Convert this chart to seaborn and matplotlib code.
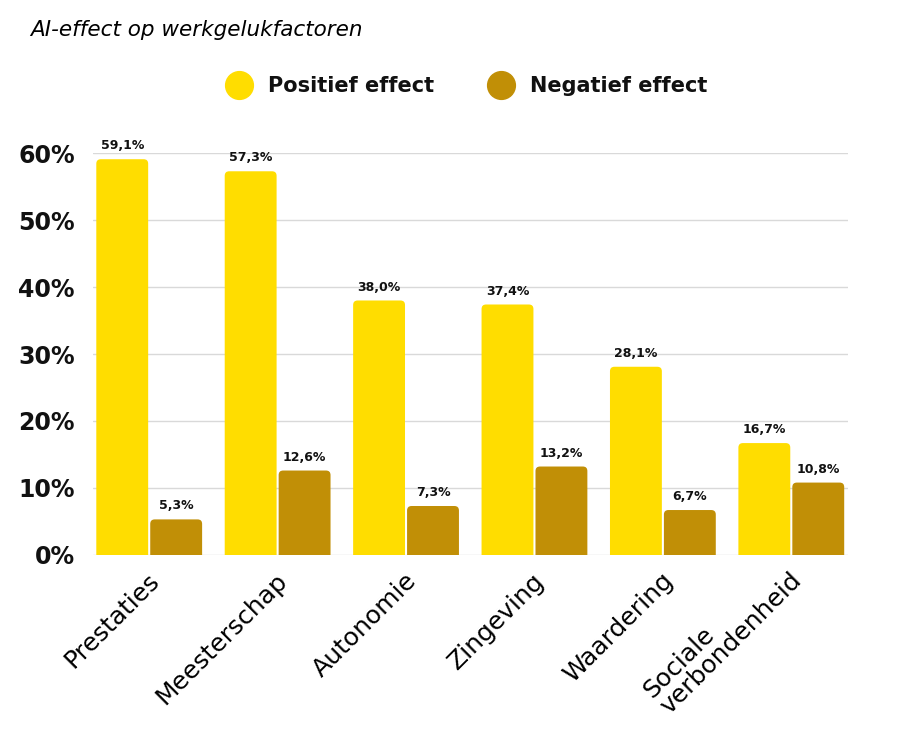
import pandas as pd
import seaborn as sns
import matplotlib.pyplot as plt
import matplotlib.transforms as mtransforms
from matplotlib.lines import Line2D
from matplotlib.patches import FancyBboxPatch

# --- data ---
factoren = ['Prestaties', 'Meesterschap', 'Autonomie', 'Zingeving', 'Waardering',
            'Sociale\nverbondenheid']
positief = [59.1, 57.3, 38.0, 37.4, 28.1, 16.7]
negatief = [5.3, 12.6, 7.3, 13.2, 6.7, 10.8]
reeksen = ['Positief effect', 'Negatief effect']
yticks = [0, 10, 20, 30, 40, 50, 60]

kleuren = {'Positief effect': '#FFDD00', 'Negatief effect': '#C18F06'}

df = pd.DataFrame({
    'factor': factoren * 2,
    'effect': [reeksen[0]] * len(factoren) + [reeksen[1]] * len(factoren),
    'pct': positief + negatief,
})

sns.set_theme(style="white")
plt.rcParams['font.family'] = ['DejaVu Sans']

fig = plt.figure(figsize=(9, 7.33), dpi=100)
ax = fig.add_axes([0.103, 0.243, 0.839, 0.548])

sns.barplot(data=df, x='factor', y='pct', hue='effect', hue_order=reeksen,
            palette=kleuren, saturation=1, width=0.84, edgecolor='white', linewidth=2,
            legend=False, ax=ax, zorder=3)

ax.set_ylim(0, 60)
ax.set_xlim(-0.44, 5.44)

# waarde-labels met decimale komma
for cont in ax.containers:
    labels = [f"{b.get_height():.1f}%".replace('.', ',') for b in cont]
    ax.bar_label(cont, labels=labels, padding=5, fontsize=9, fontweight='bold',
                 color='#111111')

# afgeronde bovenhoeken (staven vervangen door FancyBboxPatch)
r = 0.035  # afronding in x-data-eenheden
asp = (60 / (0.548 * 733)) / (5.88 / (0.839 * 900))
for cont in ax.containers:
    for b in cont:
        x, w, h = b.get_x(), b.get_width(), b.get_height()
        fc = b.get_facecolor()
        b.set_visible(False)
        fb = FancyBboxPatch((x + 0.008, -r * asp), w - 0.016, h + r * asp,
                            boxstyle=f"round,pad=0,rounding_size={r}",
                            mutation_aspect=asp, facecolor=fc, edgecolor='none',
                            zorder=3)
        ax.add_patch(fb)

ax.set_yticks(yticks)
ax.set_yticklabels([f"{v}%" for v in yticks], fontsize=17, fontweight='bold', color='#111111')
ax.tick_params(axis='y', length=0, pad=13)
ax.tick_params(axis='x', length=0, pad=10)
ax.set_xticks(range(len(factoren)))
ax.set_xticklabels(factoren, rotation=45, ha='right', rotation_mode='anchor',
                   fontsize=18, color='black', linespacing=0.95)
for lbl in ax.get_xticklabels():
    lbl.set_multialignment('left')
ax.get_xticklabels()[-1].set_va('center')
ax.set_xlabel('')
ax.set_ylabel('')
ax.grid(axis='y', color='#d9d9d9', linewidth=1, zorder=0)
sns.despine(ax=ax, left=True, bottom=True, top=True, right=True)

offset = mtransforms.ScaledTranslation(-2 / 100, 0, fig.dpi_scale_trans)
for lbl in ax.get_xticklabels():
    lbl.set_transform(lbl.get_transform() + offset)

# legenda met cirkels
handles = [Line2D([0], [0], marker='o', linestyle='', markersize=20,
                  markerfacecolor=kleuren[k], markeredgecolor=kleuren[k]) for k in reeksen]
fig.legend(handles, reeksen, loc='center', bbox_to_anchor=(0.514, 1 - 86 / 733),
           ncol=2, frameon=False, handletextpad=0.4, columnspacing=2.2,
           prop={'size': 15, 'weight': 'bold'}, labelcolor='#111111')

fig.text(30 / 900, 1 - 30 / 733, 'AI-effect op werkgelukfactoren', fontsize=15.5,
         fontstyle='italic', ha='left', va='center', color='black')

fig.savefig('out.png', dpi=100, facecolor='white')
